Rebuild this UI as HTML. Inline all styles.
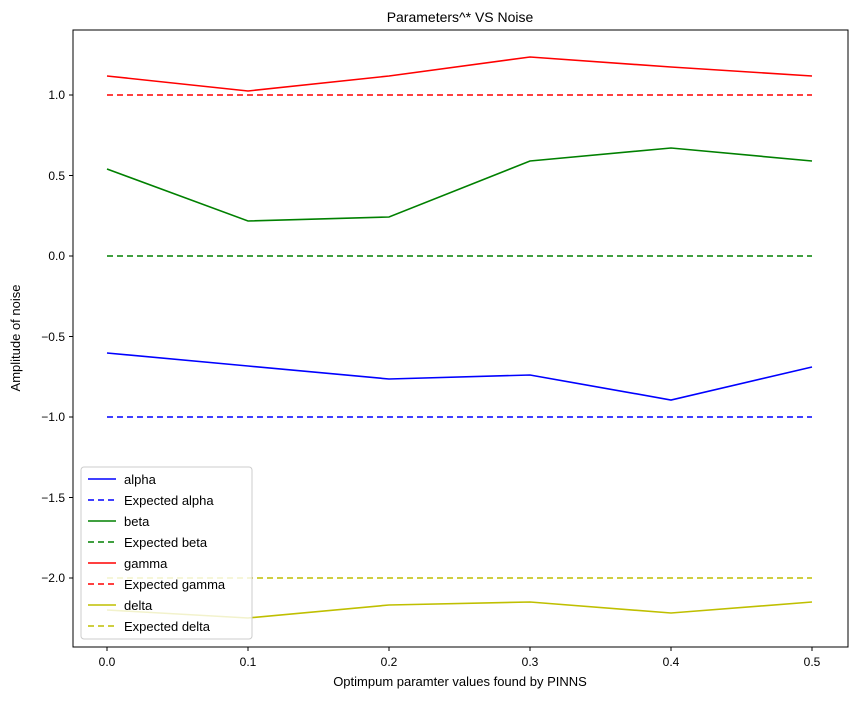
<!DOCTYPE html>
<html><head><meta charset="utf-8"><style>body{margin:0;background:#fff}</style></head><body>
<svg width="858" height="699" xmlns="http://www.w3.org/2000/svg" font-family="Liberation Sans, DejaVu Sans, sans-serif" font-size="13">
<rect width="858" height="699" fill="#fff"/>
<g stroke-width="1.6" fill="none">
<polyline stroke="#ff0000" points="107,76 248,91 389,76 530,57 671,67 812,76"/>
<line stroke="#ff0000" stroke-dasharray="6,4" x1="107" y1="95" x2="812" y2="95"/>
<polyline stroke="#008000" points="107,169 248,221 389,217 530,161 671,148 812,161"/>
<line stroke="#008000" stroke-dasharray="6,4" x1="107" y1="256" x2="812" y2="256"/>
<polyline stroke="#0000ff" points="107,353 248,366 389,379 530,375 671,400 812,367"/>
<line stroke="#0000ff" stroke-dasharray="6,4" x1="107" y1="417" x2="812" y2="417"/>
<polyline stroke="#bfbf00" points="107,610 248,618 389,605 530,602 671,613 812,602"/>
<line stroke="#bfbf00" stroke-dasharray="6,4" x1="107" y1="578" x2="812" y2="578"/>
</g>
<rect x="73" y="30" width="775" height="617" fill="none" stroke="#000" stroke-width="1"/>
<g stroke="#000">
<line x1="107" y1="647" x2="107" y2="651"/><line x1="248" y1="647" x2="248" y2="651"/><line x1="389" y1="647" x2="389" y2="651"/><line x1="530" y1="647" x2="530" y2="651"/><line x1="671" y1="647" x2="671" y2="651"/><line x1="812" y1="647" x2="812" y2="651"/>
<line x1="69" y1="95" x2="73" y2="95"/><line x1="69" y1="175.5" x2="73" y2="175.5"/><line x1="69" y1="256" x2="73" y2="256"/><line x1="69" y1="336.5" x2="73" y2="336.5"/><line x1="69" y1="417" x2="73" y2="417"/><line x1="69" y1="497.5" x2="73" y2="497.5"/><line x1="69" y1="578" x2="73" y2="578"/>
</g>
<g text-anchor="middle" font-size="12">
<text x="107" y="666">0.0</text><text x="248" y="666">0.1</text><text x="389" y="666">0.2</text><text x="530" y="666">0.3</text><text x="671" y="666">0.4</text><text x="812" y="666">0.5</text>
</g>
<g text-anchor="end" font-size="12">
<text x="65" y="99">1.0</text><text x="65" y="180">0.5</text><text x="65" y="260">0.0</text><text x="65" y="341">−0.5</text><text x="65" y="421">−1.0</text><text x="65" y="502">−1.5</text><text x="65" y="582">−2.0</text>
</g>
<text x="460" y="686" text-anchor="middle">Optimpum paramter values found by PINNS</text>
<text transform="translate(20,338) rotate(-90)" text-anchor="middle">Amplitude of noise</text>
<text x="460" y="22" text-anchor="middle" font-size="14">Parameters^* VS Noise</text>
<rect x="81" y="467" width="171" height="172" rx="3" fill="#fff" fill-opacity="0.8" stroke="#ccc"/>
<g stroke-width="1.6">
<line x1="88" y1="479" x2="116" y2="479" stroke="#0000ff"/>
<line x1="88" y1="500" x2="116" y2="500" stroke="#0000ff" stroke-dasharray="6,4"/>
<line x1="88" y1="521" x2="116" y2="521" stroke="#008000"/>
<line x1="88" y1="542" x2="116" y2="542" stroke="#008000" stroke-dasharray="6,4"/>
<line x1="88" y1="563" x2="116" y2="563" stroke="#ff0000"/>
<line x1="88" y1="584" x2="116" y2="584" stroke="#ff0000" stroke-dasharray="6,4"/>
<line x1="88" y1="605" x2="116" y2="605" stroke="#bfbf00"/>
<line x1="88" y1="626" x2="116" y2="626" stroke="#bfbf00" stroke-dasharray="6,4"/>
</g>
<g font-size="13">
<text x="124" y="484">alpha</text><text x="124" y="505">Expected alpha</text><text x="124" y="526">beta</text><text x="124" y="547">Expected beta</text><text x="124" y="568">gamma</text><text x="124" y="589">Expected gamma</text><text x="124" y="610">delta</text><text x="124" y="631">Expected delta</text>
</g>
</svg>
</body></html>
